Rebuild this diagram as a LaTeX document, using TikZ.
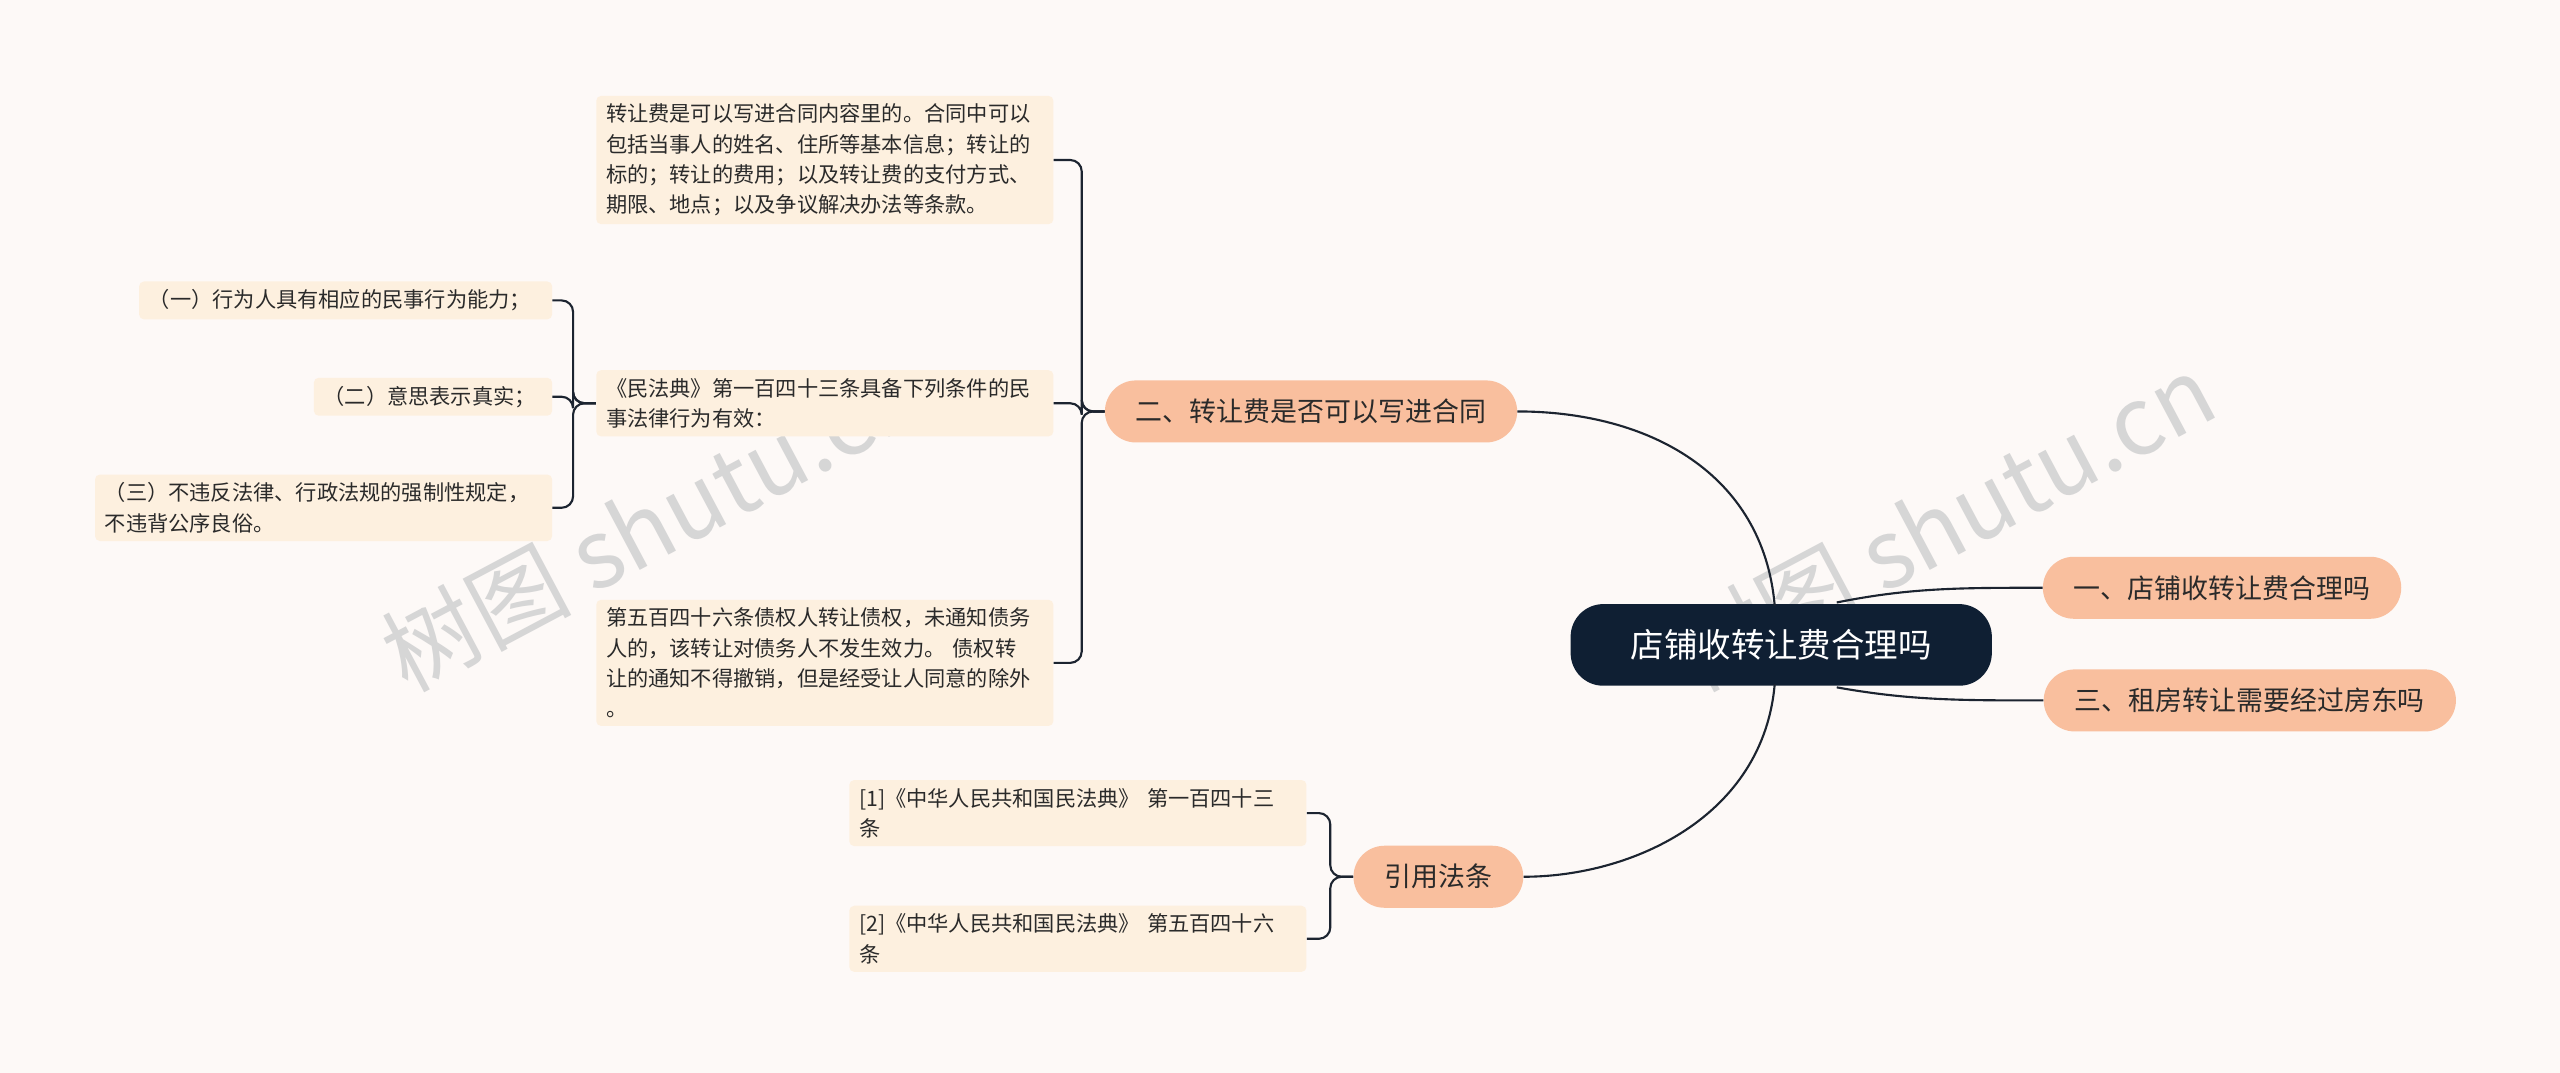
\documentclass[tikz,border=0pt]{standalone}
\usepackage{fontspec}
\setmainfont{Noto Sans CJK SC}
\begin{document}
\begin{tikzpicture}[x=1pt,y=-1pt,
  leaf/.style={fill=leafc,rounded corners=3pt,inner xsep=6pt,inner ysep=5pt,align=left,font=\fontsize{13}{18.5}\selectfont,text=txt,anchor=west},
  branch/.style={fill=brc,rounded corners=19pt,minimum height=38pt,inner xsep=19pt,font=\fontsize{16.5}{18}\selectfont,text=txt},
  conn/.style={draw=linec,line width=1.3pt},
  brk/.style={draw=linec,line width=1.3pt,rounded corners=7pt}]
\definecolor{bg}{HTML}{FDF9F7}
\definecolor{leafc}{HTML}{FDF0DF}
\definecolor{brc}{HTML}{F9BF9E}
\definecolor{linec}{HTML}{1C2430}
\definecolor{txt}{HTML}{2A2A2A}
\definecolor{rootc}{HTML}{0F1F33}
\fill[bg] (0,0) rectangle (1568,657);
\useasboundingbox (0,0) rectangle (1568,657);
\node[rotate=28,text=black!16,font=\fontsize{58}{60}\selectfont] (wm1) at (400,320) {树图 shutu.cn};
\node[rotate=28,text=black!16,font=\fontsize{58}{60}\selectfont] (wm2) at (1190,320) {树图 shutu.cn};
\node[fill=rootc,rounded corners=20pt,minimum width=258pt,minimum height=50pt,text=white,font=\fontsize{20.5}{22}\selectfont] (root) at (1091,395) {店铺收转让费合理吗};
\node[branch] (b1) at (1361,360) {一、店铺收转让费合理吗};
\node[branch] (b3) at (1378,429) {三、租房转让需要经过房东吗};
\node[branch] (b2) at (803,252) {二、转让费是否可以写进合同};
\node[branch] (b4) at (881,537) {引用法条};
\node[leaf,text width=268pt] (t1) at (365,98) {转让费是可以写进合同内容里的。合同中可以\\包括当事人的姓名、住所等基本信息；转让的\\标的；转让的费用；以及转让费的支付方式、\\期限、地点；以及争议解决办法等条款。};
\node[leaf,text width=268pt] (t2) at (365,247) {《民法典》第一百四十三条具备下列条件的民\\事法律行为有效：};
\node[leaf,text width=268pt] (t3) at (365,406) {第五百四十六条债权人转让债权，未通知债务\\人的，该转让对债务人不发生效力。 债权转\\让的通知不得撤销，但是经受让人同意的除外\\。};
\node[leaf,text width=241pt] (c1) at (85,184) {（一）行为人具有相应的民事行为能力；};
\node[leaf,text width=134pt] (c2) at (192,243) {（二）意思表示真实；};
\node[leaf,text width=268pt] (c3) at (58,311) {（三）不违反法律、行政法规的强制性规定，\\不违背公序良俗。};
\node[leaf,text width=268pt] (r1) at (520,498) {[1]《中华人民共和国民法典》 第一百四十三\\条};
\node[leaf,text width=268pt] (r2) at (520,575) {[2]《中华人民共和国民法典》 第五百四十六\\条};
\draw[conn] (1087,371) .. controls (1080,290) and (1010,252) .. (b2.east);
\draw[conn] (1087,419) .. controls (1080,500) and (1000,537) .. (b4.east);
\draw[conn] (1125,369) .. controls (1170,360) and (1200,360) .. (b1.west);
\draw[conn] (1125,421) .. controls (1170,429) and (1200,429) .. (b3.west);
\foreach \c in {t1,t2,t3}{\draw[brk] (b2.west) -- ++(-14,0) |- (\c.east);}
\foreach \c in {c1,c2,c3}{\draw[brk] (t2.west) -- ++(-14,0) |- (\c.east);}
\foreach \c in {r1,r2}{\draw[brk] (b4.west) -- ++(-14,0) |- (\c.east);}
\end{tikzpicture}
\end{document}
